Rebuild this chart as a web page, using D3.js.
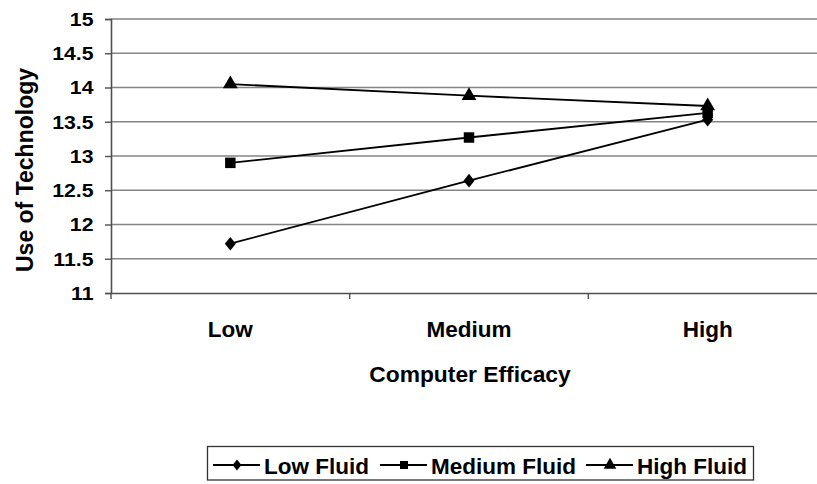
<!DOCTYPE html>
<html><head><meta charset="utf-8">
<script src="https://cdn.jsdelivr.net/npm/d3@7"></script>
<style>body{margin:0;background:#fff}svg{display:block}text{font-family:"Liberation Sans",Arial,sans-serif;font-weight:bold;fill:#000}</style>
</head><body><svg id="c" width="817" height="484"></svg>
<script>
const categories = ["Low", "Medium", "High"];
const seriesNames = ["Low Fluid", "Medium Fluid", "High Fluid"];
const lowFluid = [11.72, 12.64, 13.53];
const mediumFluid = [12.90, 13.27, 13.63];
const highFluid = [14.05, 13.88, 13.73];
const yTicks = [11, 11.5, 12, 12.5, 13, 13.5, 14, 14.5, 15];

const FONT = "Liberation Sans, Arial, sans-serif";
const diamond = { draw(ctx, size) { const w = Math.sqrt(size) * 0.55, h = Math.sqrt(size) * 0.68;
  ctx.moveTo(0, -h); ctx.lineTo(w, 0); ctx.lineTo(0, h); ctx.lineTo(-w, 0); ctx.closePath(); } };
const symbols = [diamond, d3.symbolSquare, d3.symbolTriangle];
const symSizes = [100, 110, 95];
const legSizes = [64, 64, 70];

const svg = d3.select("#c");
const pLeft = 111, pRight = 827, pTop = 19, pBottom = 293;
const x = d3.scaleBand().domain(categories).range([pLeft, pRight]);
const y = d3.scaleLinear().domain([11, 15]).range([pBottom, pTop]);

// gridlines
svg.append("g").selectAll("line").data(yTicks.slice(1)).join("line")
  .attr("x1", pLeft).attr("x2", pRight).attr("y1", d => y(d)).attr("y2", d => y(d))
  .attr("stroke", "#858585").attr("stroke-width", 1.6);

// y axis
const ya = svg.append("g").attr("transform", `translate(${pLeft},0)`)
  .call(d3.axisLeft(y).tickValues(yTicks).tickSize(6).tickPadding(11).tickFormat(d3.format("")));
ya.select(".domain").attr("stroke", "#505050").attr("stroke-width", 1.6);
ya.selectAll(".tick line").attr("stroke", "#505050").attr("stroke-width", 1.4);
ya.selectAll(".tick text").attr("font-size", 17.7).attr("font-family", FONT).attr("font-weight", "bold")
  .attr("fill", "#000").attr("x", 0).attr("dy", "0.36em")
  .attr("transform", "translate(-17.5,0) scale(1.2,1)");

// x axis
const xa = svg.append("g").attr("transform", `translate(0,${pBottom})`)
  .call(d3.axisBottom(x).tickSize(0).tickPadding(0));
xa.select(".domain").attr("stroke", "#505050").attr("stroke-width", 1.6);
xa.selectAll(".tick text").attr("font-size", 22.5).attr("font-family", FONT).attr("font-weight", "bold")
  .attr("fill", "#000").attr("y", 44).attr("dy", 0);
// category boundary ticks
const bounds = categories.slice(0, -1).map(c => x(c) + x.bandwidth());
svg.append("g").selectAll("line").data([pLeft, ...bounds]).join("line")
  .attr("x1", d => d).attr("x2", d => d).attr("y1", pBottom).attr("y2", pBottom + 6)
  .attr("stroke", "#505050").attr("stroke-width", 1.4);

// axis titles
svg.append("text").attr("x", 470).attr("y", 382).attr("text-anchor", "middle")
  .attr("font-size", 22.8).text("Computer Efficacy");
svg.append("text").attr("transform", "translate(33,170) rotate(-90)").attr("text-anchor", "middle")
  .attr("font-size", 23).text("Use of Technology");

// series
const series = [lowFluid, mediumFluid, highFluid];
const cx = c => x(c) + x.bandwidth() / 2;
const line = d3.line().x((d, i) => cx(categories[i])).y(d => y(d));
series.forEach((s, si) => {
  svg.append("path").datum(s).attr("d", line).attr("fill", "none")
    .attr("stroke", "#000").attr("stroke-width", 1.8);
  svg.append("g").selectAll("path").data(s).join("path")
    .attr("transform", (d, i) => `translate(${cx(categories[i])},${y(d)})`)
    .attr("d", d3.symbol().type(symbols[si]).size(symSizes[si]))
    .attr("fill", "#000");
});

// legend
const lg = svg.append("g");
lg.append("rect").attr("x", 207.5).attr("y", 446.5).attr("width", 546).attr("height", 33.5)
  .attr("fill", "#fff").attr("stroke", "#333").attr("stroke-width", 1.3);
const legX = [213, 380, 586];
seriesNames.forEach((n, i) => {
  const g = lg.append("g").attr("transform", `translate(${legX[i]},465)`);
  g.append("line").attr("x1", 0).attr("x2", 47).attr("stroke", "#000").attr("stroke-width", 1.8);
  g.append("path").attr("transform", "translate(24,0)")
    .attr("d", d3.symbol().type(symbols[i]).size(legSizes[i])).attr("fill", "#000");
  g.append("text").attr("x", 51).attr("y", 9).attr("font-size", 22.5).text(n);
});
</script></body></html>
